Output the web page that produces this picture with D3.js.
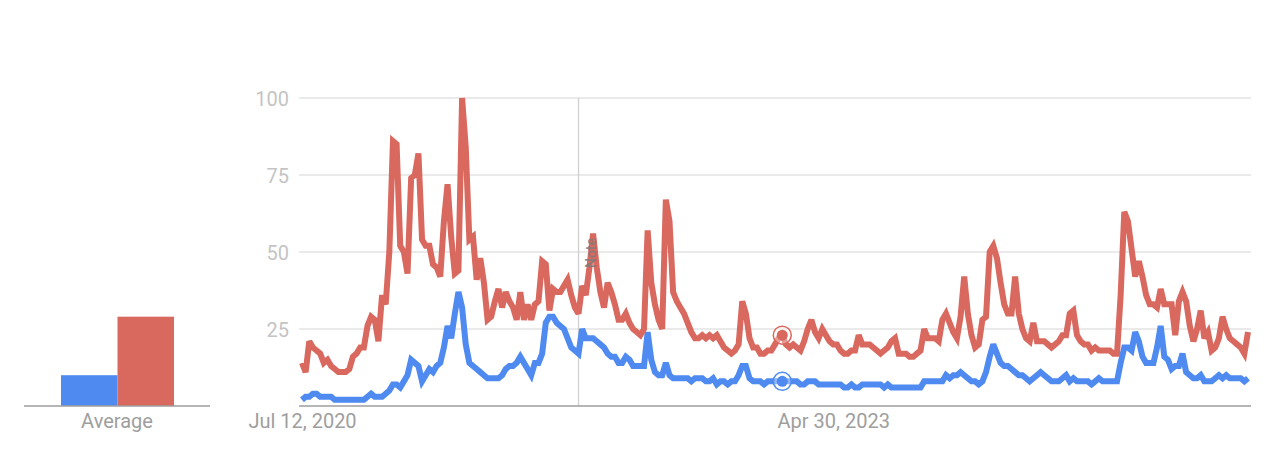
<!DOCTYPE html>
<html>
<head>
<meta charset="utf-8">
<script src="https://cdn.jsdelivr.net/npm/d3@7"></script>
<style>
  html, body { margin: 0; padding: 0; background: #fff; }
  svg { display: block; font-family: Roboto, "Noto Sans", Arial, sans-serif; }
</style>
</head>
<body>
<svg id="chart" width="1280" height="469"></svg>
<script>
// ---------- data ----------
const startDate = "2020-07-12";           // first weekly point
const seriesNames = ["Series A", "Series B"];
const seriesColors = ["#4e8af0", "#d9685e"];

const blueValues = [
  2,3,3,4,4,3,3,3,3,2,
  2,2,2,2,2,2,2,2,3,4,
  3,3,3,4,5,7,7,6,8,10,
  15,14,13,8,10,12,11,13,14,19,
  26,22,30,37,32,20,14,13,12,11,
  10,9,9,9,9,10,12,13,13,14,
  16,14,12,10,14,14,17,27,29,29,
  27,26,25,22,19,18,17,25,22,22,
  22,21,20,19,17,16,16,14,14,16,
  15,13,13,13,13,24,15,11,10,10,
  14,10,9,9,9,9,9,8,9,9,
  9,8,8,9,7,8,8,7,8,8,
  10,13,13,9,8,8,8,7,8,8,
  8,8,8,8,8,8,8,7,7,8,
  8,8,7,7,7,7,7,7,7,6,
  6,7,6,6,7,7,7,7,7,7,
  6,7,6,6,6,6,6,6,6,6,
  6,8,8,8,8,8,8,10,9,10,
  10,11,10,9,8,8,7,8,11,16,
  20,17,14,13,13,12,11,10,10,9,
  8,9,10,11,10,9,8,8,8,9,
  10,8,9,8,8,8,8,7,8,9,
  8,8,8,8,8,14,19,19,18,24,
  21,16,14,14,14,19,26,16,15,12,
  13,13,17,11,10,9,9,10,8,8,
  8,9,10,9,10,9,9,9,9,8,
  9
];

const redValues = [
  14,11,21,19,18,17,14,15,13,12,
  11,11,11,12,16,17,19,19,26,29,
  28,21,36,33,50,86,85,52,50,43,
  74,75,82,54,52,52,46,45,42,60,
  72,55,43,44,100,84,54,55,41,48,
  40,28,29,34,38,32,37,34,32,28,
  37,28,33,28,33,34,47,46,31,38,
  37,37,39,41,36,32,30,39,36,45,
  56,45,37,32,40,37,33,28,28,30,
  27,25,24,23,25,57,40,33,28,25,
  67,60,37,34,32,30,27,24,22,22,
  23,22,23,22,23,21,19,18,17,18,
  20,34,30,22,19,19,17,17,18,18,
  20,22,23,20,19,20,19,18,21,25,
  28,24,22,25,23,21,20,20,18,17,
  17,18,18,23,20,20,20,19,18,17,
  18,19,21,22,17,17,17,16,16,17,
  18,25,22,22,22,21,28,30,27,24,
  22,29,42,30,23,19,20,28,29,50,
  52,48,40,33,30,30,42,30,25,22,
  21,27,21,21,21,20,19,20,21,23,
  23,30,31,23,21,20,20,18,19,18,
  18,18,18,17,17,36,63,60,51,42,
  47,42,36,33,33,32,38,33,33,33,
  23,34,37,34,26,21,25,31,22,24,
  18,19,22,29,25,22,21,20,19,17,
  24
];

const averages = [10, 29];
const averageLabel = "Average";
const yTicks = [25, 50, 75, 100];
const xTickDates = ["2020-07-12", "2023-04-30"];
const xTickLabels = ["Jul 12, 2020", "Apr 30, 2023"];
const noteDate = "2021-12-26";
const noteLabel = "Note";
const hoverDate = "2023-01-22";

// ---------- build ----------
const parse = d3.utcParse("%Y-%m-%d");
const t0 = parse(startDate);
const dates = blueValues.map((_, i) => d3.utcDay.offset(t0, 7 * i));

const svg = d3.select("#chart");

const x = d3.scaleUtc().domain([dates[0], dates[dates.length - 1]]).range([302, 1248]);
const y = d3.scaleLinear().domain([0, 100]).range([406, 98]);

// gridlines
const grid = svg.append("g");
grid.selectAll("line").data(yTicks).join("line")
  .attr("x1", 299).attr("x2", 1251)
  .attr("y1", d => y(d)).attr("y2", d => y(d))
  .attr("stroke", "#e3e3e3").attr("stroke-width", 1.3);

// y labels
const yAxis = d3.axisLeft(y).tickValues(yTicks).tickSize(0).tickPadding(0);
const yg = svg.append("g").attr("transform", "translate(289,0)").call(yAxis);
yg.select(".domain").remove();
yg.selectAll("text").attr("fill", "#c4c4c4").attr("font-size", 20)
  .attr("font-family", "Roboto, sans-serif").attr("dy", "0.35em");

// note vertical line
svg.append("line")
  .attr("x1", x(parse(noteDate))).attr("x2", x(parse(noteDate)))
  .attr("y1", y(100)).attr("y2", y(0))
  .attr("stroke", "#d0d0d0").attr("stroke-width", 1.3);

// baseline
svg.append("line").attr("x1", 299).attr("x2", 1251)
  .attr("y1", y(0)).attr("y2", y(0)).attr("stroke", "#9e9e9e").attr("stroke-width", 1.3);

// x axis labels
const xAxis = d3.axisBottom(x)
  .tickValues(xTickDates.map(parse))
  .tickFormat((d, i) => xTickLabels[i])
  .tickSize(0).tickPadding(0);
const xg = svg.append("g").attr("transform", `translate(0,${y(0)})`).call(xAxis);
xg.select(".domain").remove();
xg.selectAll("text").attr("fill", "#9e9e9e").attr("font-size", 20)
  .attr("font-family", "Roboto, sans-serif").attr("y", 8).attr("dy", "0.71em");

// lines
const line = d3.line().x((d, i) => x(dates[i])).y(d => y(d));
[blueValues, redValues].forEach((vals, k) => {
  svg.append("path").datum(vals)
    .attr("d", line)
    .attr("fill", "none")
    .attr("stroke", seriesColors[k])
    .attr("stroke-width", 6)
    .attr("stroke-linejoin", "miter")
    .attr("stroke-miterlimit", 3);
});

// note marker
const nx = x(parse(noteDate)) + 13;
svg.append("text")
  .attr("transform", `translate(${nx},253) rotate(-90)`)
  .attr("text-anchor", "middle")
  .attr("dy", "0.35em")
  .attr("font-size", 14)
  .attr("font-weight", 500)
  .attr("fill", "#7d7d7d")
  .attr("fill-opacity", 0.85)
  .attr("font-family", "Roboto, sans-serif")
  .text(noteLabel);

// hover markers
const hIdx = dates.findIndex(d => +d === +parse(hoverDate));
[blueValues, redValues].forEach((vals, k) => {
  const cx = x(dates[hIdx]), cy = y(vals[hIdx]);
  svg.append("circle").attr("cx", cx).attr("cy", cy).attr("r", 9)
    .attr("fill", "#fff").attr("fill-opacity", 0.35)
    .attr("stroke", seriesColors[k]).attr("stroke-width", 1.5);
  svg.append("circle").attr("cx", cx).attr("cy", cy).attr("r", 5.5)
    .attr("fill", seriesColors[k]);
});

// average bars
const xb = d3.scaleBand().domain(seriesNames).range([61, 174]).padding(0);
svg.append("g").selectAll("rect").data(averages).join("rect")
  .attr("x", (d, i) => xb(seriesNames[i]))
  .attr("width", xb.bandwidth())
  .attr("y", d => y(d))
  .attr("height", d => y(0) - y(d))
  .attr("fill", (d, i) => seriesColors[i]);
svg.append("line").attr("x1", 24).attr("x2", 210)
  .attr("y1", y(0)).attr("y2", y(0)).attr("stroke", "#9e9e9e").attr("stroke-width", 1.3);
svg.append("text").attr("x", 117).attr("y", y(0) + 8).attr("dy", "0.71em")
  .attr("text-anchor", "middle").attr("font-size", 20).attr("fill", "#9e9e9e")
  .attr("font-family", "Roboto, sans-serif")
  .text(averageLabel);
</script>
</body>
</html>
